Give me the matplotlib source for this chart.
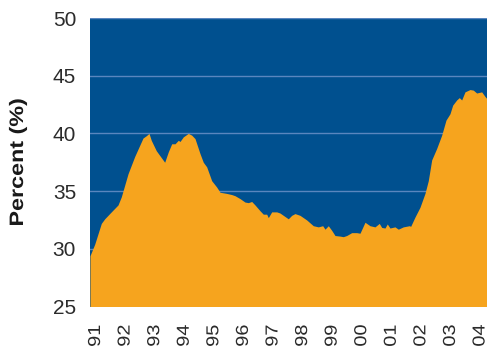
import matplotlib
matplotlib.use("Agg")
import matplotlib.pyplot as plt
from matplotlib import patheffects
from matplotlib.transforms import Affine2D

# Share of the series, decimal year vs percent
years = [
    1990.814, 1990.973, 1991.196, 1991.311, 1991.534, 1991.761, 1991.872,
    1992.099, 1992.325, 1992.606, 1992.717, 1992.809, 1992.886, 1993.055,
    1993.339, 1993.461, 1993.576, 1993.688, 1993.799, 1993.857, 1993.968,
    1994.137, 1994.252, 1994.364, 1994.533, 1994.644, 1994.759, 1994.928,
    1995.097, 1995.209, 1995.435, 1995.604, 1995.716, 1995.885, 1996.054,
    1996.166, 1996.281, 1996.392, 1996.561, 1996.673, 1996.788, 1996.842,
    1996.957, 1997.126, 1997.237, 1997.349, 1997.518, 1997.633, 1997.744,
    1997.913, 1998.140, 1998.363, 1998.532, 1998.681, 1998.759, 1998.870,
    1998.985, 1999.097, 1999.266, 1999.377, 1999.492, 1999.661, 1999.830,
    1999.942, 2000.111, 2000.280, 2000.449, 2000.594, 2000.676, 2000.787,
    2000.865, 2000.956, 2001.125, 2001.237, 2001.406, 2001.609, 2001.656,
    2001.801, 2001.970, 2002.139, 2002.251, 2002.366, 2002.535, 2002.704,
    2002.849, 2002.984, 2003.076, 2003.211, 2003.299, 2003.380, 2003.492,
    2003.661, 2003.772, 2003.887, 2004.056, 2004.168, 2004.236,
]
percent = [
    29.4, 30.4, 32.2, 32.6, 33.2, 33.8, 34.5,
    36.5, 38.0, 39.6, 39.8, 40.0, 39.4, 38.5,
    37.5, 38.4, 39.1, 39.1, 39.4, 39.3, 39.7,
    40.0, 39.85, 39.55, 38.25, 37.5, 37.1, 35.9,
    35.35, 34.9, 34.8, 34.7, 34.6, 34.35, 34.05,
    34.0, 34.1, 33.8, 33.3, 33.0, 33.0, 32.7,
    33.2, 33.2, 33.1, 32.9, 32.6, 32.9, 33.05,
    32.9, 32.5, 32.0, 31.9, 32.0, 31.7, 32.0,
    31.6, 31.15, 31.1, 31.05, 31.15, 31.4, 31.4,
    31.35, 32.3, 32.0, 31.9, 32.2, 31.85, 31.8,
    32.15, 31.8, 31.9, 31.7, 31.9, 32.0, 31.95,
    32.75, 33.6, 34.8, 35.9, 37.7, 38.7, 39.85,
    41.15, 41.7, 42.45, 42.9, 43.1, 42.9, 43.6,
    43.8, 43.75, 43.5, 43.6, 43.2, 43.0,
]

tick_years = list(range(1991, 2005))
tick_labels = ["91", "92", "93", "94", "95", "96", "97", "98", "99",
               "00", "01", "02", "03", "04"]
y_ticks = [25, 30, 35, 40, 45, 50]

BLUE = "#00508F"
ORANGE = "#F6A41E"
GRID = "#5A86BE"
TEXT = "#2b2b2b"


class StretchAlongText(patheffects.AbstractPathEffect):
    """Stretch glyphs along the reading direction, keeping the centre fixed."""

    def __init__(self, factor):
        super().__init__(offset=(0.0, 0.0))
        self.factor = factor

    def draw_path(self, renderer, gc, tpath, affine, rgbFace=None):
        ext = tpath.get_extents()
        cx = 0.5 * (ext.x0 + ext.x1)
        pre = Affine2D().translate(-cx, 0).scale(self.factor, 1).translate(cx, 0)
        renderer.draw_path(gc, tpath, pre + affine, rgbFace)


plt.rcParams["font.family"] = ["Liberation Sans", "DejaVu Sans"]

fig = plt.figure(figsize=(4.87, 3.49), dpi=100)
ax = fig.add_axes([90 / 487, 1 - 306.5 / 349, 1 - 90 / 487, (306.5 - 18) / 349])
ax.set_facecolor(BLUE)

ax.fill_between(years, 25, percent, color=ORANGE, linewidth=0, zorder=3)

ax.set_xlim(1990.814, 2004.236)
ax.set_ylim(25, 50)

ax.set_yticks(y_ticks)
ax.set_yticklabels([str(v) for v in y_ticks], fontsize=15, color=TEXT)
ax.set_xticks(tick_years)
ax.set_xticklabels(tick_labels, rotation=90, fontsize=12.5, color=TEXT)
for lbl in ax.get_xticklabels():
    lbl.set_path_effects([StretchAlongText(1.15)])
ax.tick_params(axis="both", length=0)
ax.tick_params(axis="y", pad=10)
ax.tick_params(axis="x", pad=14)

ax.grid(axis="y", color=GRID, linewidth=1.0, zorder=1)
ax.set_axisbelow(True)
for s in ax.spines.values():
    s.set_visible(False)

ylab = ax.set_ylabel("Percent (%)", fontsize=14, fontweight="bold",
                     color="#1a1a1a")
ylab.set_path_effects([StretchAlongText(1.2)])
ax.yaxis.set_label_coords(-63 / 397, 0.5)

fig.savefig("out.png", dpi=100)
